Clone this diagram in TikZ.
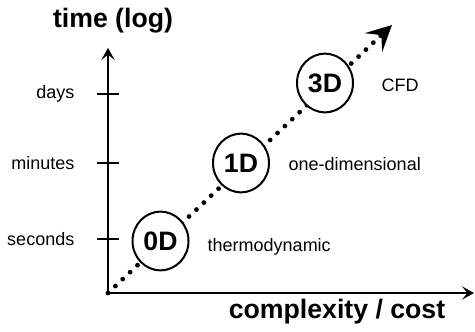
\documentclass[tikz,border=0pt]{standalone}
\usepackage{fontspec}
\setmainfont{Liberation Sans}
\usepackage{tikz}
\usetikzlibrary{arrows.meta,shapes.geometric}

\tikzset{
  axisline/.style={line width=2.2pt, -{Stealth[length=9pt, width=10pt, inset=4pt]}},
  tickline/.style={line width=2.2pt},
  dotline/.style={line width=3.6pt, line cap=round, dash pattern=on 0pt off 7.6pt,
    -{Stealth[length=19pt, width=19pt, inset=8pt]}},
  modelcirc/.style={ellipse, draw, line width=1.5pt, fill=white,
    minimum width=42pt, minimum height=44pt, inner sep=0pt, font=\bfseries\fontsize{20}{22}\selectfont},
  ticklabel/.style={anchor=east, font=\fontsize{13.5}{15}\selectfont},
  sidelabel/.style={anchor=west, font=\fontsize{13.5}{15}\selectfont},
  axistitle/.style={font=\bfseries\fontsize{20}{22}\selectfont}
}

\begin{document}
\begin{tikzpicture}[x=0.75pt, y=-0.75pt]
  \useasboundingbox (0,0) rectangle (475,332);

  % axes
  \coordinate (O) at (108,293);
  \coordinate (ytop) at (108,48);
  \coordinate (xend) at (474,293);
  \draw[axisline] (O) -- (ytop);
  \draw[axisline] (O) -- (xend);
  \node[axistitle] (ytitle) at (113,21) {time (log)};
  \node[axistitle] (xtitle) at (337,312) {complexity / cost};

  % ticks
  \foreach[count=\i from 1] \lbl/\yy in {seconds/239, minutes/163, days/94} {
    \coordinate (tl\i) at (97,\yy);
    \coordinate (tr\i) at (119,\yy);
    \draw[tickline] (tl\i) -- (tr\i);
    \node[ticklabel] (lbl\i) at (79,\yy) {\lbl};
  }

  % dotted trend
  \coordinate (tip) at (392,25);
  \draw[dotline] (O) -- (tip);

  % model levels
  \node[modelcirc] (m0) at (160.5,241) {0D};
  \node[modelcirc] (m1) at (241,163) {1D};
  \node[modelcirc] (m3) at (325,83) {3D};
  \node[sidelabel] (d0) at (203,247) {thermodynamic};
  \node[sidelabel] (d1) at (284,164) {one-dimensional};
  \node[sidelabel] (d3) at (377,85) {CFD};
\end{tikzpicture}
\end{document}
